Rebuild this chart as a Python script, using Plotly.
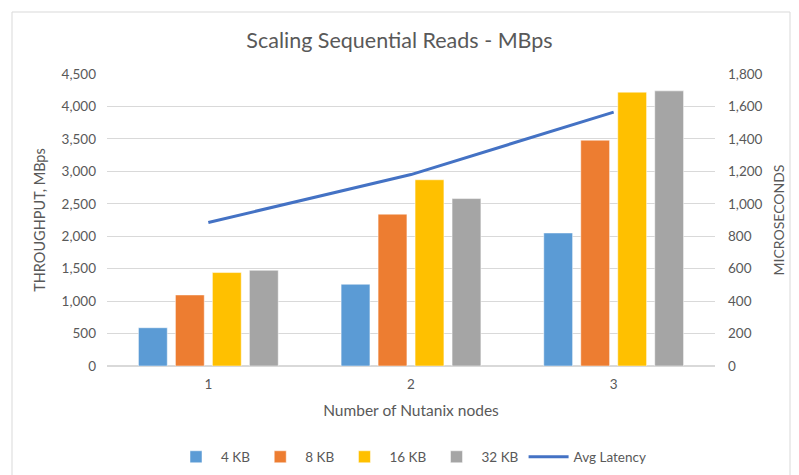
import plotly.graph_objects as go

nodes = ["1", "2", "3"]
kb4 = [590, 1260, 2050]
kb8 = [1095, 2340, 3480]
kb16 = [1440, 2870, 4220]
kb32 = [1475, 2580, 4240]
avg_latency = [885, 1180, 1565]

series = [("4 KB", kb4, "#5B9BD5"), ("8 KB", kb8, "#ED7D31"),
          ("16 KB", kb16, "#FFC000"), ("32 KB", kb32, "#A5A5A5")]

W, H = 799, 475
L, R, T, B = 107, 84, 74, 109
pw, ph = W - L - R, H - T - B

fig = go.Figure()
for name, vals, col in series:
    fig.add_trace(go.Bar(x=nodes, y=vals, name=name, marker=dict(color=col, line=dict(color="white", width=0.5))))
fig.add_trace(go.Scatter(x=nodes, y=avg_latency, name="Avg Latency", mode="lines",
                         line=dict(color="#4472C4", width=3), yaxis="y2"))

txt = "#595959"
fig.update_layout(
    width=W, height=H,
    margin=dict(l=L, r=R, t=T, b=B, autoexpand=False),
    paper_bgcolor="white", plot_bgcolor="white",
    font=dict(family="Lato, Open Sans, sans-serif", color=txt, size=13),
    title=dict(text="Scaling Sequential Reads - MBps", x=0.5, xanchor="center",
               y=1 - 40 / H, yanchor="middle", font=dict(size=21.5, color=txt)),
    barmode="group", bargap=0.27, bargroupgap=0.22,
    xaxis=dict(showgrid=False, showline=False, ticks="", tickfont=dict(size=13.5, color=txt),
               automargin=False, ticklabelstandoff=8,
               title=dict(text="Number of Nutanix nodes", font=dict(size=15.5, color=txt), standoff=14)),
    yaxis=dict(range=[0, 4500], dtick=500, tickformat=",", gridcolor="#D9D9D9", gridwidth=1,
               zeroline=True, zerolinecolor="#D9D9D9", showline=False, ticks="",
               automargin=False,
               tickfont=dict(size=13.5, color=txt), ticklabelstandoff=10,
               title=dict(text="THROUGHPUT, MBps", font=dict(size=14.5, color=txt), standoff=12)),
    yaxis2=dict(range=[0, 1800], dtick=200, tickformat=",", overlaying="y", side="right",
                showgrid=False, zeroline=False, showline=False, ticks="",
                automargin=False,
                tickfont=dict(size=13.5, color=txt), ticklabelstandoff=12,
                title=dict(text="MICROSECONDS", font=dict(size=14, color=txt), standoff=12)),
    legend=dict(orientation="h", x=0.5, xanchor="center", y=-(457 - (T + ph)) / ph, yanchor="middle",
                font=dict(size=13.5, color=txt), traceorder="normal", itemwidth=40),
    shapes=[dict(type="rect", xref="paper", yref="paper",
                 x0=(12 - L) / pw, x1=(790 - L) / pw,
                 y0=(T + ph - 490) / ph, y1=(T + ph - 12) / ph,
                 line=dict(color="#D9D9D9", width=1), fillcolor="rgba(0,0,0,0)", layer="below")],
)
fig.write_html("out.html", config={"displayModeBar": False},
               post_script="document.body.style.margin='0';document.body.style.overflow='hidden';")
